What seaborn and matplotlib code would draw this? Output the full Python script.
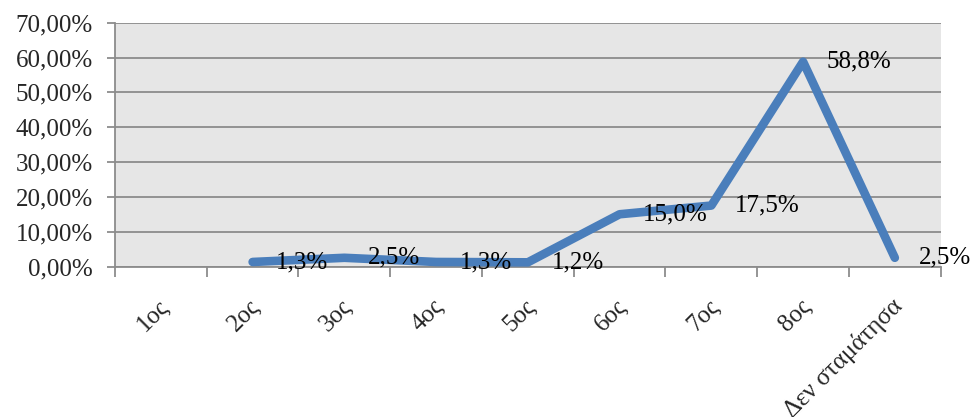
import numpy as np
import pandas as pd
import matplotlib
matplotlib.use("Agg")
import matplotlib.pyplot as plt
import matplotlib.transforms as mtransforms
import seaborn as sns

# Categories and percentage values (None = no answer for that category)
categories = ["1ος", "2ος", "3ος", "4ος", "5ος", "6ος", "7ος", "8ος", "Δεν σταμάτησα"]
values = [None, 1.3, 2.5, 1.3, 1.2, 15.0, 17.5, 58.8, 2.5]
value_labels = ["", "1,3%", "2,5%", "1,3%", "1,2%", "15,0%", "17,5%", "58,8%", "2,5%"]
y_ticks = [0, 10, 20, 30, 40, 50, 60, 70]
y_tick_labels = ["0,00%", "10,00%", "20,00%", "30,00%", "40,00%", "50,00%", "60,00%", "70,00%"]

sns.set_theme(style="white")
plt.rcParams["font.family"] = ["Liberation Serif", "DejaVu Serif"]

FS = 18

df = pd.DataFrame({
    "pos": np.arange(len(categories)),
    "value": [np.nan if v is None else v for v in values],
})

fig = plt.figure(figsize=(9.72, 4.17), dpi=100)
ax = fig.add_axes([115 / 972, 1 - 266.5 / 417, (940.7 - 115) / 972, (266.5 - 22.7) / 417])
ax.set_facecolor("#e6e6e6")

grid_color = "#8c8c8c"
for t in y_ticks:
    ax.axhline(t, color=grid_color, lw=1.3, zorder=1)

sns.lineplot(data=df.dropna(), x="pos", y="value", ax=ax, color="#4a7ebb",
             linewidth=6.2, solid_capstyle="round", solid_joinstyle="round",
             zorder=3, legend=False)

for x, v, lab in zip(df["pos"], df["value"], value_labels):
    if np.isnan(v):
        continue
    ax.annotate(lab, (x, v), xytext=(17, 0), textcoords="offset points",
                ha="left", va="center", fontsize=FS, color="black", zorder=4)

ax.set_xlim(-0.5, len(categories) - 0.5)
ax.set_ylim(0, 70)

ax.set_yticks(y_ticks)
ax.set_yticklabels(y_tick_labels, fontsize=FS)
ax.tick_params(axis="y", which="major", length=6, width=1.3, color=grid_color,
               direction="out", pad=10, left=True)

# category boundaries carry the tick marks; labels sit at category centres
ax.set_xticks(np.arange(-0.5, len(categories), 1.0))
ax.set_xticklabels([])
ax.tick_params(axis="x", which="major", length=7, width=1.3, color=grid_color,
               direction="out", bottom=True)
ax.set_xticks(np.arange(len(categories)), minor=True)
ax.set_xticklabels(categories, minor=True, fontsize=FS, rotation=45,
                   ha="right", va="center", rotation_mode="anchor")
ax.tick_params(axis="x", which="minor", length=0, pad=26)
offset = mtransforms.ScaledTranslation(4 / 100, 0, fig.dpi_scale_trans)
for lbl in ax.get_xticklabels(minor=True):
    lbl.set_transform(lbl.get_transform() + offset)

ax.set_xlabel("")
ax.set_ylabel("")
for side in ["top", "right"]:
    ax.spines[side].set_visible(False)
for side in ["left", "bottom"]:
    ax.spines[side].set_color(grid_color)
    ax.spines[side].set_linewidth(1.3)
    ax.spines[side].set_zorder(2)

fig.savefig("out.png", dpi=100)
